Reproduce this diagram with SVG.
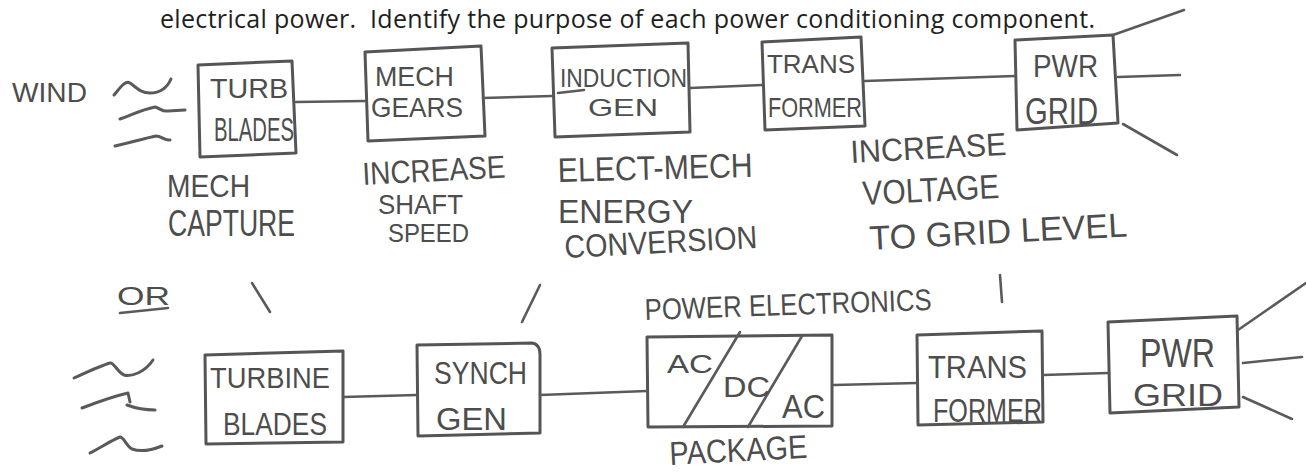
<svg xmlns="http://www.w3.org/2000/svg" width="1306" height="473" viewBox="0 0 1306 473">
<style>
.bg{fill:#ffffff}
.box{fill:none;stroke:#555555;stroke-width:3;stroke-linejoin:round}
.ln{fill:none;stroke:#5a5a5a;stroke-width:2.6;stroke-linecap:round}
.wv{fill:none;stroke:#5a5a5a;stroke-width:3;stroke-linecap:round;stroke-linejoin:round}
.hw{font-family:"Liberation Sans","DejaVu Sans",sans-serif;fill:#4d4d4d}
.title{font-family:"Open Sans","Liberation Sans",sans-serif;font-size:25px;fill:#1e1e1e;white-space:pre}
</style>
<rect class="bg" x="0" y="0" width="1306" height="473"/>
<text class="title" x="160" y="28" textLength="935" lengthAdjust="spacing" xml:space="preserve">electrical power.  Identify the purpose of each power conditioning component.</text>

<g id="wind">
<text class="hw" x="12" y="102" font-size="28" textLength="75" lengthAdjust="spacingAndGlyphs">WIND</text>
<path class="wv" d="M114,95 C120,88 125,80 130,83 C136,87 140,93 150,93 C160,93 167,88 171,79"/>
<path class="wv" d="M120,119 C130,116 140,110 155,107 C160,108 162,112 168,111 L185,110"/>
<path class="wv" d="M115,146 C130,143 145,138 156,136 C162,136 164,141 170,140"/>
</g>

<g id="turb-blades">
<path class="box" d="M198,65 L292,61 L296,153 L200,157 Z"/>
<text class="hw" x="210" y="98" font-size="28" textLength="78" lengthAdjust="spacingAndGlyphs">TURB</text>
<text class="hw" x="214" y="141" font-size="34" textLength="80" lengthAdjust="spacingAndGlyphs">BLADES</text>
</g>

<g id="mech-gears">
<path class="box" d="M365,52 L481,46 L485,136 L368,141 Z"/>
<text class="hw" x="375" y="86" font-size="28" textLength="79" lengthAdjust="spacingAndGlyphs">MECH</text>
<text class="hw" x="371" y="117" font-size="28" textLength="92" lengthAdjust="spacingAndGlyphs">GEARS</text>
</g>

<g id="induction-gen">
<path class="box" d="M552,48 L688,43 L690,132 L555,137 Z"/>
<text class="hw" x="560" y="87" font-size="26" textLength="127" lengthAdjust="spacingAndGlyphs">INDUCTION</text>
<path class="ln" d="M558,93 L584,90"/>
<text class="hw" x="588" y="116" font-size="24" textLength="70" lengthAdjust="spacingAndGlyphs">GEN</text>
</g>

<g id="transformer-1">
<path class="box" d="M762,42 L861,37 L865,126 L765,130 Z"/>
<text class="hw" x="767" y="73" font-size="26" textLength="88" lengthAdjust="spacingAndGlyphs">TRANS</text>
<text class="hw" x="768" y="117" font-size="28" textLength="94" lengthAdjust="spacingAndGlyphs">FORMER</text>
</g>

<g id="pwr-grid-1">
<path class="box" d="M1015,40 L1113,35 L1118,123 L1017,130 Z"/>
<text class="hw" x="1033" y="77" font-size="32" textLength="65" lengthAdjust="spacingAndGlyphs">PWR</text>
<text class="hw" x="1025" y="124" font-size="36" textLength="73" lengthAdjust="spacingAndGlyphs">GRID</text>
</g>

<g id="labels-top">
<text class="hw" x="167" y="197" font-size="32" textLength="83" lengthAdjust="spacingAndGlyphs">MECH</text>
<text class="hw" x="168" y="236" font-size="36" textLength="127" lengthAdjust="spacingAndGlyphs">CAPTURE</text>
<text class="hw" x="363" y="185" font-size="32" textLength="143" lengthAdjust="spacingAndGlyphs" transform="rotate(-3 363 185)">INCREASE</text>
<text class="hw" x="378" y="214" font-size="28" textLength="85" lengthAdjust="spacingAndGlyphs">SHAFT</text>
<text class="hw" x="388" y="242" font-size="25" textLength="81" lengthAdjust="spacingAndGlyphs">SPEED</text>
<text class="hw" x="558" y="182" font-size="34" textLength="195" lengthAdjust="spacingAndGlyphs" transform="rotate(-1.5 558 182)">ELECT-MECH</text>
<text class="hw" x="558" y="223" font-size="34" textLength="135" lengthAdjust="spacingAndGlyphs">ENERGY</text>
<text class="hw" x="565" y="258" font-size="32" textLength="193" lengthAdjust="spacingAndGlyphs" transform="rotate(-3 565 258)">CONVERSION</text>
<text class="hw" x="851" y="163" font-size="32" textLength="156" lengthAdjust="spacingAndGlyphs" transform="rotate(-3 851 163)">INCREASE</text>
<text class="hw" x="863" y="205" font-size="34" textLength="137" lengthAdjust="spacingAndGlyphs" transform="rotate(-3 863 205)">VOLTAGE</text>
<text class="hw" x="870" y="250" font-size="34" textLength="258" lengthAdjust="spacingAndGlyphs" transform="rotate(-3 870 250)">TO GRID LEVEL</text>
</g>

<g id="or-label">
<text class="hw" x="117" y="305" font-size="26" textLength="53" lengthAdjust="spacingAndGlyphs">OR</text>
<path class="ln" d="M120,313 L168,308"/>
</g>

<g id="wind-2">
<path class="wv" d="M74,378 C85,373 100,366 110,363 C114,362 117,372 124,375 C132,377 145,372 153,360"/>
<path class="wv" d="M82,408 C95,403 115,396 128,393 L130,402"/>
<path class="wv" d="M127,405 C135,408 145,410 155,410"/>
<path class="wv" d="M90,453 C100,448 112,440 120,437 C124,437 126,446 132,449 C140,452 152,450 162,446"/>
</g>

<g id="turbine-blades">
<path class="box" d="M205,355 L343,351 L343,442 L206,444 Z"/>
<text class="hw" x="210" y="388" font-size="30" textLength="120" lengthAdjust="spacingAndGlyphs">TURBINE</text>
<text class="hw" x="223" y="435" font-size="32" textLength="104" lengthAdjust="spacingAndGlyphs">BLADES</text>
</g>

<g id="synch-gen">
<path class="box" d="M417,345 L532,343 Q540,344 540,355 L540,433 L418,436 Z"/>
<text class="hw" x="434" y="384" font-size="32" textLength="93" lengthAdjust="spacingAndGlyphs">SYNCH</text>
<text class="hw" x="436" y="430" font-size="32" textLength="71" lengthAdjust="spacingAndGlyphs">GEN</text>
</g>

<g id="power-electronics">
<text class="hw" x="645" y="320" font-size="30" textLength="287" lengthAdjust="spacingAndGlyphs" transform="rotate(-2 645 320)">POWER ELECTRONICS</text>
<path class="box" d="M647,337 L832,335 L832,426 L648,427 Z"/>
<path class="ln" d="M740,332 L683,427"/>
<path class="ln" d="M802,336 L748,427"/>
<text class="hw" x="667" y="373" font-size="26" textLength="46" lengthAdjust="spacingAndGlyphs">AC</text>
<text class="hw" x="723" y="397" font-size="30" textLength="47" lengthAdjust="spacingAndGlyphs">DC</text>
<text class="hw" x="782" y="418" font-size="34" textLength="43" lengthAdjust="spacingAndGlyphs">AC</text>
<text class="hw" x="670" y="465" font-size="33" textLength="138" lengthAdjust="spacingAndGlyphs" transform="rotate(-3 670 465)">PACKAGE</text>
</g>

<g id="transformer-2">
<path class="box" d="M917,335 L1042,331 L1043,422 L918,425 Z"/>
<text class="hw" x="928" y="378" font-size="32" textLength="99" lengthAdjust="spacingAndGlyphs">TRANS</text>
<text class="hw" x="933" y="422" font-size="34" textLength="109" lengthAdjust="spacingAndGlyphs">FORMER</text>
</g>

<g id="pwr-grid-2">
<path class="box" d="M1108,322 L1237,316 L1239,407 L1110,413 Z"/>
<text class="hw" x="1140" y="367" font-size="40" textLength="75" lengthAdjust="spacingAndGlyphs">PWR</text>
<text class="hw" x="1133" y="406" font-size="32" textLength="90" lengthAdjust="spacingAndGlyphs">GRID</text>
</g>

<g id="connectors">
<path class="ln" d="M296,102 L365,101"/>
<path class="ln" d="M483,98 L552,96"/>
<path class="ln" d="M690,88 L762,85"/>
<path class="ln" d="M865,81 L1015,76"/>
<path class="ln" d="M1113,35 L1184,10"/>
<path class="ln" d="M1118,77 L1180,75"/>
<path class="ln" d="M1123,124 L1177,155"/>
<path class="ln" d="M252,283 L270,312"/>
<path class="ln" d="M540,285 L522,322"/>
<path class="ln" d="M1000,275 L1002,302"/>
<path class="ln" d="M343,397 L417,395"/>
<path class="ln" d="M540,395 L647,391"/>
<path class="ln" d="M834,385 L917,383"/>
<path class="ln" d="M1043,375 L1108,373"/>
<path class="ln" d="M1238,330 L1306,283"/>
<path class="ln" d="M1243,363 L1302,357"/>
<path class="ln" d="M1243,397 L1292,419"/>
</g>
</svg>
